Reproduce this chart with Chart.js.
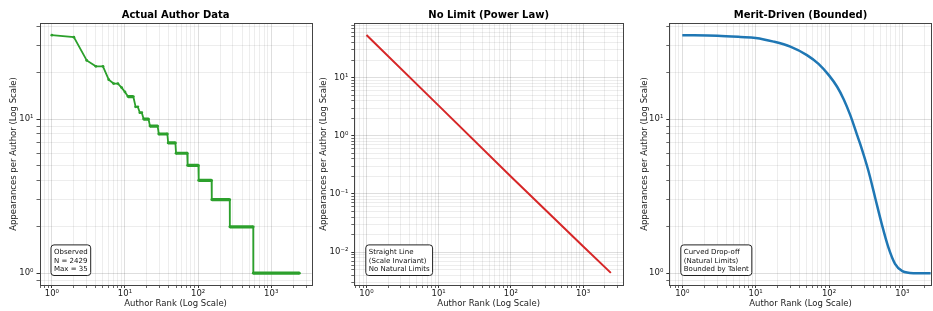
<!DOCTYPE html>
<html>
<head>
<meta charset="utf-8">
<script src="https://cdn.jsdelivr.net/npm/chart.js@4.4.1/dist/chart.umd.min.js"></script>
<style>
  html, body { margin: 0; padding: 0; background: #fff; }
  body { width: 933px; height: 311px; position: relative; overflow: hidden; }
  .panel { position: absolute; top: 0; height: 311px; }
  .panel canvas { display: block; }
</style>
</head>
<body>
<div class="panel" style="left:0px;width:316px"><canvas id="actualChart" width="316" height="311"></canvas></div>
<div class="panel" style="left:316px;width:312px"><canvas id="powerChart" width="312" height="311"></canvas></div>
<div class="panel" style="left:628px;width:305px"><canvas id="meritChart" width="305" height="311"></canvas></div>
<script>
// --- datos ---
// Panel 1: rango del autor vs apariciones (inicio y fin de cada escalon)
const actualRanks = [1, 2, 3, 4, 5, 6, 7, 8, 9, 10, 11, 13, 14, 15, 16, 17, 18, 21, 22, 28, 29, 38, 39, 49, 50, 71, 72, 101, 102, 153, 154, 271, 272, 568, 569, 2429];
const actualCounts = [35, 34, 24, 22, 22, 18, 17, 17, 16, 15, 14, 14, 12, 12, 11, 11, 10, 10, 9, 9, 8, 8, 7, 7, 6, 6, 5, 5, 4, 4, 3, 3, 2, 2, 1, 1];

// Panel 2: ley de potencia (recta en log-log)
const powerRanks = [1, 10, 100, 1000, 2429];
const powerCounts = [54, 3.3, 0.2, 0.0126, 0.0044];

// Panel 3: caida acotada por merito
const meritRanks = [1, 3, 6.2, 10, 17.6, 29.7, 50, 72, 100, 129, 159, 195, 241, 266, 345, 425, 523, 645, 795, 1000, 1413, 2429];
const meritCounts = [35, 34.7, 34.1, 33.6, 31.8, 29.5, 26.0, 22.8, 19.2, 16.2, 13.4, 10.6, 7.9, 6.9, 4.6, 3.1, 2.09, 1.47, 1.15, 1.03, 1.0, 1.0];

const panelTitles = ['Actual Author Data', 'No Limit (Power Law)', 'Merit-Driven (Bounded)'];
const noteLines = [
  ['Observed', 'N = 2429', 'Max = 35'],
  ['Straight Line', '(Scale Invariant)', 'No Natural Limits'],
  ['Curved Drop-off', '(Natural Limits)', 'Bounded by Talent']
];
const xLabel = 'Author Rank (Log Scale)';
const yLabel = 'Appearances per Author (Log Scale)';

const FONT = 'DejaVu Sans';
const SUP = { '-': '\u207B', '0': '\u2070', '1': '\u00B9', '2': '\u00B2', '3': '\u00B3', '4': '\u2074', '5': '\u2075', '6': '\u2076', '7': '\u2077', '8': '\u2078', '9': '\u2079' };

function isDecade(v) {
  const l = Math.log10(v);
  return Math.abs(l - Math.round(l)) < 1e-9;
}

function decadeLabel(v) {
  if (!isDecade(v)) return '';
  const e = String(Math.round(Math.log10(v)));
  return '10' + e.split('').map((c) => SUP[c]).join('');
}

// ticks 1..9 x 10^e como en matplotlib (sin el 15 de Chart.js)
function logTicks(scale) {
  const ticks = [];
  const e0 = Math.floor(Math.log10(scale.min));
  const e1 = Math.ceil(Math.log10(scale.max));
  for (let e = e0; e <= e1; e++) {
    for (let m = 1; m <= 9; m++) {
      const v = parseFloat((m * Math.pow(10, e)).toPrecision(12));
      if (v >= scale.min && v <= scale.max) ticks.push({ value: v, major: m === 1 });
    }
  }
  scale.ticks = ticks;
}

const frameBox = {
  id: 'frameBox',
  afterDatasetsDraw(chart) {
    const a = chart.chartArea;
    const ctx = chart.ctx;
    ctx.save();
    ctx.strokeStyle = '#444';
    ctx.lineWidth = 1;
    ctx.strokeRect(Math.round(a.left) + 0.5, Math.round(a.top) + 0.5, Math.round(a.right - a.left), Math.round(a.bottom - a.top));
    ctx.restore();
  }
};

const noteBox = {
  id: 'noteBox',
  afterDraw(chart, args, opts) {
    if (!opts.lines) return;
    const a = chart.chartArea;
    const ctx = chart.ctx;
    const lh = 8.2, pad = 3;
    ctx.save();
    ctx.font = `7px "${FONT}"`;
    const w = Math.max(...opts.lines.map((t) => ctx.measureText(t).width)) + pad * 2;
    const h = opts.lines.length * lh + pad * 2;
    const x = a.left + 11.5;
    const y = a.bottom - 9.5 - h;
    ctx.beginPath();
    ctx.roundRect(x, y, w, h, 3);
    ctx.fillStyle = '#fff';
    ctx.fill();
    ctx.strokeStyle = '#222';
    ctx.lineWidth = 1;
    ctx.stroke();
    ctx.fillStyle = '#111';
    ctx.textBaseline = 'middle';
    opts.lines.forEach((t, i) => ctx.fillText(t, x + pad, y + pad + lh * i + lh / 2 + 0.5));
    ctx.restore();
  }
};

function buildChart(id, idx, ranks, counts, cfg) {
  return new Chart(document.getElementById(id), {
    type: 'line',
    data: {
      datasets: [{
        data: ranks.map((r, i) => ({ x: r, y: counts[i] })),
        borderColor: cfg.color,
        backgroundColor: cfg.color,
        borderWidth: cfg.width,
        pointRadius: cfg.pointRadius || 0,
        pointBorderWidth: 0,
        pointBackgroundColor: cfg.color,
        cubicInterpolationMode: cfg.smooth ? 'monotone' : 'default',
        tension: 0,
        segment: cfg.segment || {}
      }]
    },
    options: {
      responsive: false,
      animation: false,
      devicePixelRatio: 1,
      layout: { padding: { left: 0, right: cfg.padRight, top: 0, bottom: 0 } },
      plugins: {
        legend: { display: false },
        tooltip: { enabled: false },
        title: {
          display: true,
          text: panelTitles[idx],
          fullSize: false,
          color: '#000',
          font: { family: FONT, size: 10, weight: 'bold' },
          padding: { top: 9.5, bottom: 1.5 }
        },
        noteBox: { lines: noteLines[idx] }
      },
      scales: {
        x: {
          type: 'logarithmic',
          min: cfg.xMin,
          max: cfg.xMax,
          afterBuildTicks: logTicks,
          afterFit: (s) => { s.height = 26; },
          border: { display: false },
          grid: {
            color: (c) => (c.tick && isDecade(c.tick.value) ? 'rgba(0,0,0,0.13)' : 'rgba(0,0,0,0.07)'),
            tickColor: (c) => (c.tick && isDecade(c.tick.value) ? '#333' : '#666'),
            tickLength: 3
          },
          ticks: {
            autoSkip: false,
            maxRotation: 0,
            padding: 1,
            color: '#222',
            font: { family: FONT, size: 8.5 },
            callback: (v) => decadeLabel(v)
          },
          title: {
            display: true,
            text: xLabel,
            color: '#222',
            font: { family: FONT, size: 8.5 },
            padding: { top: 0, bottom: 2 }
          }
        },
        y: {
          type: 'logarithmic',
          min: cfg.yMin,
          max: cfg.yMax,
          afterBuildTicks: logTicks,
          afterFit: (s) => { s.width = cfg.yWidth; },
          border: { display: false },
          grid: {
            color: (c) => (c.tick && isDecade(c.tick.value) ? 'rgba(0,0,0,0.13)' : 'rgba(0,0,0,0.07)'),
            tickColor: (c) => (c.tick && isDecade(c.tick.value) ? '#333' : '#666'),
            tickLength: 3
          },
          ticks: {
            autoSkip: false,
            padding: 3,
            color: '#222',
            font: { family: FONT, size: 8.5 },
            callback: (v) => decadeLabel(v)
          },
          title: {
            display: true,
            text: yLabel,
            color: '#222',
            font: { family: FONT, size: 8.5 },
            padding: { top: cfg.yTitlePad, bottom: 0 }
          }
        }
      }
    },
    plugins: [frameBox, noteBox]
  });
}

buildChart('actualChart', 0, actualRanks, actualCounts, {
  color: '#2ca02c', width: 1.8, pointRadius: 1.4,
  segment: {
    borderWidth: (c) => (c.p0.parsed.y === c.p1.parsed.y && c.p1.parsed.x - c.p0.parsed.x > 1 ? 3.2 : 1.8)
  },
  xMin: 0.678, xMax: 3580, yMin: 0.838, yMax: 42,
  yWidth: 39.5, padRight: 4.3, yTitlePad: 8.9
});

buildChart('powerChart', 1, powerRanks, powerCounts, {
  color: '#d62728', width: 2,
  xMin: 0.678, xMax: 3580, yMin: 0.00272, yMax: 87,
  yWidth: 38.3, padRight: 5, yTitlePad: 2.9
});

buildChart('meritChart', 2, meritRanks, meritCounts, {
  color: '#1f77b4', width: 2.5, smooth: true,
  xMin: 0.665, xMax: 2512, yMin: 0.838, yMax: 42,
  yWidth: 41.3, padRight: 1.3, yTitlePad: 11.9
});
</script>
</body>
</html>
